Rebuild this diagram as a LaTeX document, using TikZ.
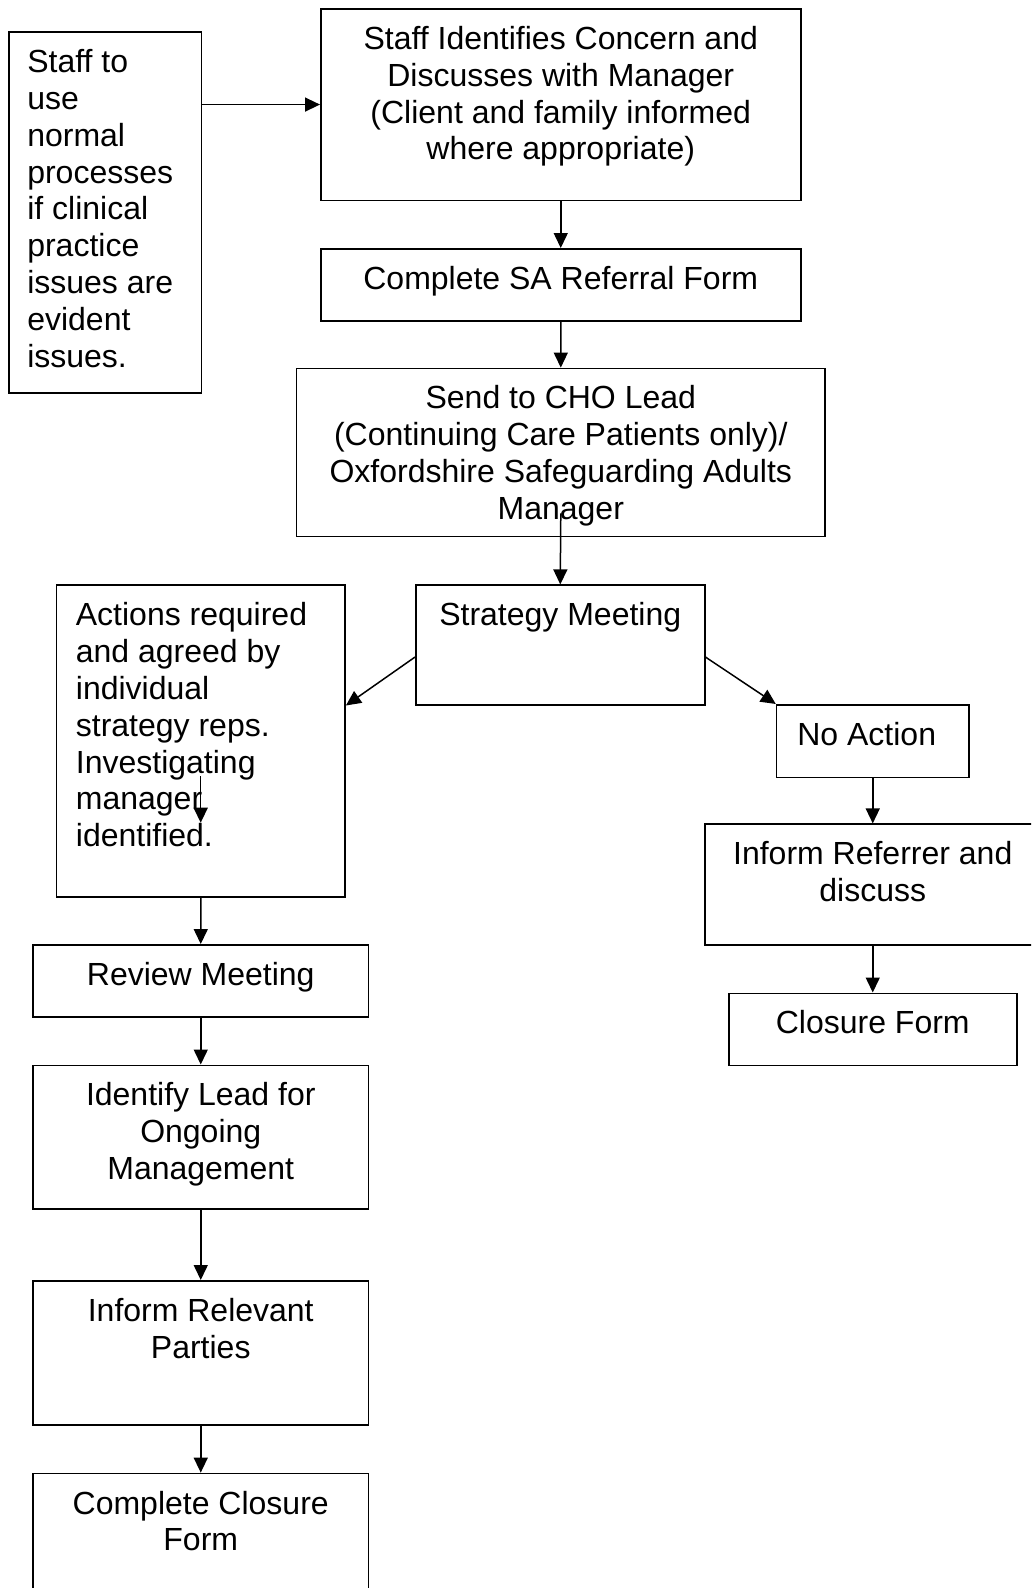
\documentclass[tikz,border=0pt]{standalone}
\usepackage{fontspec}
\setmainfont{Liberation Sans}
\usetikzlibrary{positioning,calc,arrows.meta}

\tikzset{
  box/.style={draw, line width=1.5pt, inner sep=0pt, anchor=north west},
  txt/.style={inner sep=0pt, align=center, font=\fontsize{32}{36.8}\selectfont},
  ltxt/.style={txt, align=left},
  arr/.style={line width=1.5pt, -{Triangle[length=15pt,width=14pt]}}
}

\begin{document}
\begin{tikzpicture}[x=1pt, y=-1pt]
    \useasboundingbox (0,0) rectangle (1031,1588);
    \clip (0,0) rectangle (1031,1588);

    % top row
    \node [box, minimum width=192.4pt, minimum height=360.6pt] (staff) at (8.1,31.4) {};
    \node [ltxt, below right=18pt and 19pt of staff.north west] (staff-t) {Staff to\\use\\normal\\processes\\if clinical\\practice\\issues are\\evident\\issues.};
    \node [box, minimum width=480pt, minimum height=191.4pt] (concern) at (320,8.1) {};
    \node [txt, below=18pt of concern.north] (concern-t) {Staff Identifies Concern and\\Discusses with Manager\\(Client and family informed\\where appropriate)};
    \node [box, minimum width=480pt, minimum height=72pt] (referral) at (320,248) {};
    \node [txt, below=18pt of referral.north] (referral-t) {Complete SA Referral Form};
    \node [box, minimum width=528.7pt, minimum height=168.2pt] (send) at (295.7,367.6) {};
    \node [txt, below=18pt of send.north] (send-t) {Send to CHO Lead\\(Continuing Care Patients only)/\\Oxfordshire Safeguarding Adults\\Manager};
    \node [box, minimum width=289pt, minimum height=119.6pt] (strategy) at (415,584.4) {};
    \node [txt, below=18pt of strategy.north] (strategy-t) {Strategy Meeting};

    % left branch
    \node [box, minimum width=288.7pt, minimum height=312pt] (actions) at (55.7,584.4) {};
    \node [ltxt, below right=18pt and 20pt of actions.north west] (actions-t) {Actions required\\and agreed by\\individual\\strategy reps.\\Investigating\\manager\\identified.};
    \node [box, minimum width=335.2pt, minimum height=72pt] (review) at (32.4,944) {};
    \node [txt, below=18pt of review.north] (review-t) {Review Meeting};
    \node [box, minimum width=335.2pt, minimum height=143.5pt] (lead) at (32.4,1064.5) {};
    \node [txt, below=18pt of lead.north] (lead-t) {Identify Lead for\\Ongoing\\Management};
    \node [box, minimum width=335.2pt, minimum height=144pt] (parties) at (32.4,1280) {};
    \node [txt, below=18pt of parties.north] (parties-t) {Inform Relevant\\Parties};
    \node [box, minimum width=335.2pt, minimum height=150pt] (closing) at (32.4,1472.6) {};
    \node [txt, below=18pt of closing.north] (closing-t) {Complete Closure\\Form};

    % right branch
    \node [box, minimum width=192.4pt, minimum height=72.8pt] (noaction) at (775.8,704) {};
    \node [txt, below=18pt of noaction.north, xshift=-6pt] (noaction-t) {No Action};
    \node [box, minimum width=336pt, minimum height=120.6pt] (referrer) at (704,823.4) {};
    \node [txt, below=18pt of referrer.north] (referrer-t) {Inform Referrer and\\discuss};
    \node [box, minimum width=288pt, minimum height=72pt] (closure) at (728,992.5) {};
    \node [txt, below=18pt of closure.north] (closure-t) {Closure Form};

    % arrows
    \draw [arr] (concern.west -| staff.east) -- (concern.west);
    \draw [arr] (concern.south) -- (referral.north);
    \draw [arr] (referral.south) -- (send.north);
    \draw [arr] ($(send.south)+(0,-24)$) -- (strategy.north);
    \draw [arr] ($(strategy.north west)!0.6!(strategy.south west)$) -- (actions.east |- strategy.south);
    \draw [arr] ($(strategy.north east)!0.6!(strategy.south east)$) -- (noaction.north west);
    \coordinate (stray) at (200.7,776);
    \draw [arr] (stray) -- ++(0,46.7);
    \draw [arr] (actions.south) -- (review.north);
    \draw [arr] (review.south) -- (lead.north);
    \draw [arr] (lead.south) -- (parties.north);
    \draw [arr] (parties.south) -- (closing.north);
    \draw [arr] (noaction.south) -- (noaction.south |- referrer.north);
    \draw [arr] (closure.north |- referrer.south) -- (closure.north);
\end{tikzpicture}
\end{document}
